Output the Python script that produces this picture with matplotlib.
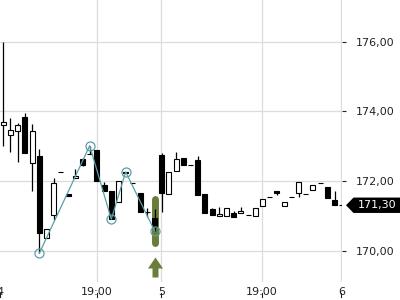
import matplotlib
matplotlib.use("Agg")
import matplotlib.pyplot as plt
from matplotlib.path import Path
from matplotlib.patches import Polygon

# ---- data ----
opens  = [173.60,173.32,173.43,173.84,172.50,172.72,170.35,171.02,172.25,171.62,
          172.07,172.62,172.77,172.89,171.88,171.71,171.40,172.26,171.95,171.64,
          171.12,170.93,172.74,171.62,172.28,172.65,172.46,172.60,171.62,171.19,
          170.98,170.98,171.07,171.07,171.01,171.00,171.28,171.53,171.70,171.28,
          171.53,171.64,171.62,171.73,171.93,171.82,171.45,171.30]
highs  = [176.00,173.80,173.66,173.96,173.63,172.91,170.62,172.07,172.25,171.62,
          172.33,172.67,173.01,172.89,171.96,171.71,172.00,172.26,171.95,171.64,
          171.21,171.19,172.79,172.26,172.82,172.65,172.46,172.72,171.62,171.21,
          171.26,171.23,171.14,171.26,171.01,171.21,171.47,171.53,171.70,171.38,
          171.53,171.98,171.62,171.87,171.93,171.82,171.71,171.30]
lows   = [173.00,172.82,172.53,172.79,171.72,169.92,170.35,170.88,172.25,171.57,
          172.07,172.43,172.77,172.00,171.71,170.90,171.40,172.24,171.95,171.12,
          170.97,170.57,171.12,171.62,172.28,172.46,172.46,171.59,171.07,171.01,
          170.98,170.98,170.97,171.07,171.01,171.00,171.28,171.53,171.59,171.28,
          171.53,171.53,171.62,171.73,171.93,171.50,171.30,171.30]
closes = [173.69,173.46,173.61,172.79,173.43,170.51,170.62,171.93,172.25,171.57,
          172.13,172.45,172.78,172.00,171.71,170.90,172.00,172.24,171.95,171.12,
          171.12,170.67,171.64,172.26,172.62,172.46,172.46,171.59,171.07,171.01,
          171.06,171.23,170.97,171.14,171.01,171.21,171.47,171.53,171.66,171.38,
          171.53,171.98,171.62,171.87,171.93,171.50,171.30,171.30]

swing_idx = [5, 12, 15, 17, 21]
swing_val = [169.92, 173.01, 170.90, 172.26, 170.57]

signal_idx = 21
signal_top, signal_bottom = 171.49, 170.22
arrow_price = 169.53

xtick_pos = [-0.46, 13.0, 21.97, 35.93, 46.97]
xtick_labels = ["4", "19:00", "5", "19:00", "6"]
ytick_vals = [170, 172, 174, 176]
ytick_labels = ["170,00", "172,00", "174,00", "176,00"]
last_price = 171.30
last_label = "171,30"

# ---- figure ----
fig = plt.figure(figsize=(4, 3), dpi=100)
ax = fig.add_axes([0, 1 - 282/300, 342/400, 282/300])
ax.set_xlim(-0.458, 47.04)
ax.set_ylim(169.095, 177.198)
for s in ax.spines.values():
    s.set_visible(False)

grid_c = "#dcdcdc"
for v in ytick_vals:
    ax.axhline(v, color=grid_c, lw=0.9, zorder=0)
for p in xtick_pos[1:]:
    ax.axvline(p, color=grid_c, lw=0.9, zorder=0)

olive = "#6b7d3a"
teal = "#5a9ea6"

# signal highlight
ax.plot([signal_idx, signal_idx], [signal_top, signal_bottom], color=olive,
        lw=5.0, solid_capstyle="round", zorder=1)

# candles
n = len(opens)
w = 0.68
for i in range(n):
    o, h, l, c = opens[i], highs[i], lows[i], closes[i]
    ax.vlines(i, l, h, color="black", lw=0.9, zorder=2)
    lo, hi = min(o, c), max(o, c)
    fc = "white" if c > o else "black"
    ax.bar(i, hi - lo, bottom=lo, width=w, facecolor=fc, edgecolor="black",
           linewidth=0.8, zorder=3)

# swing line
ax.plot(swing_idx, swing_val, color=teal, lw=0.9, zorder=4)
ax.plot(swing_idx, swing_val, ls="none", marker="o", markersize=6.5,
        markerfacecolor="none", markeredgecolor=teal, markeredgewidth=0.9, zorder=5)

# up arrow
verts = [(0, 10), (7.5, -1), (3, -1), (3, -10), (-3, -10), (-3, -1), (-7.5, -1), (0, 10)]
codes = [Path.MOVETO] + [Path.LINETO] * 6 + [Path.CLOSEPOLY]
arrow = Path(verts, codes)
ax.plot(signal_idx, arrow_price, marker=arrow, markersize=14.4, color=olive,
        markeredgewidth=0, ls="none", zorder=5)

# y ticks on right
ax.yaxis.tick_right()
ax.set_yticks(ytick_vals)
ax.set_yticklabels(ytick_labels)
ax.tick_params(axis="y", length=3, width=0.8, color="#222222", pad=7,
               labelsize=8, labelcolor="#222222")

# x ticks (manual: label then small tick below)
ax.set_xticks([])
tr = ax.get_xaxis_transform()
for p, lab in zip(xtick_pos, xtick_labels):
    ax.text(p, -5/282, lab, transform=tr, ha="center", va="top", fontsize=8,
            color="#222222", clip_on=False)
    ax.plot([p, p], [-10.5/282, -15/282], transform=tr, color="#222222",
            lw=0.8, clip_on=False)

# last price label
def px(x, y):
    return (x / 400, 1 - y / 300)

yc = 41.7 + (176 - last_price) * 34.8
poly = Polygon([px(346, yc), px(353.5, yc - 7.7), px(400, yc - 7.7),
                px(400, yc + 7.7), px(353.5, yc + 7.7)],
               closed=True, facecolor="black", edgecolor="none",
               transform=fig.transFigure)
fig.add_artist(poly)
fx, fy = px(377, yc)
fig.text(fx, fy, last_label, color="white", fontsize=8, ha="center", va="center")

fig.savefig("out.png", dpi=100)
